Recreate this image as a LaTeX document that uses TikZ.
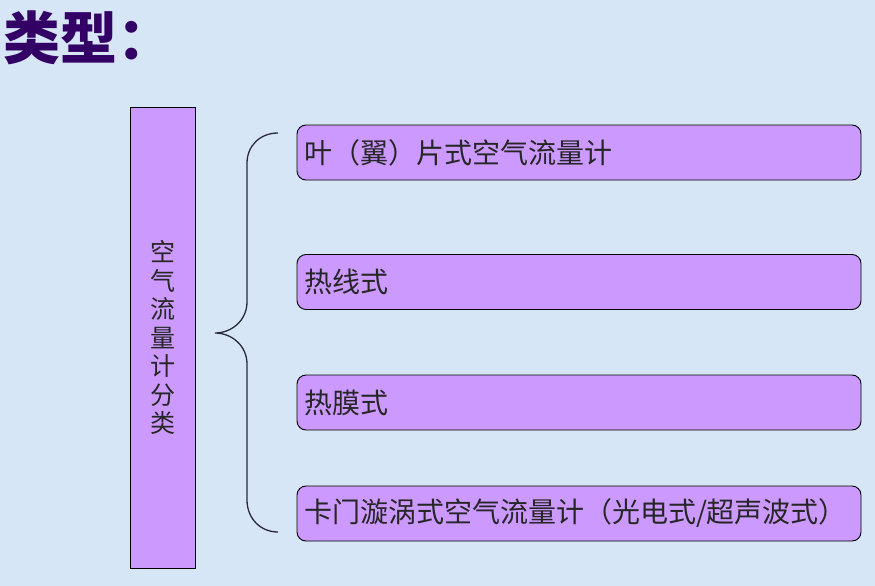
\documentclass[tikz,border=0pt]{standalone}
\usepackage{fontspec}
\setmainfont{Noto Sans CJK SC}
\usepackage{xcolor}
\usetikzlibrary{positioning}

\definecolor{bgblue}{HTML}{D6E6F6}
\definecolor{boxpurple}{HTML}{CC99FF}
\definecolor{titlepurple}{HTML}{330066}
\definecolor{bracegray}{HTML}{2A2A3A}

\tikzset{
    kindbox/.style={draw=black, fill=boxpurple, rounded corners=9pt, line width=0.9pt,
        minimum width=564pt, minimum height=55pt, inner xsep=7pt,
        text width=550pt, align=left, font=\fontsize{28pt}{30pt}\selectfont, text=black!85},
    mainbox/.style={draw=black, fill=boxpurple, line width=0.9pt,
        minimum width=65pt, minimum height=461pt, inner sep=0pt,
        align=center, font=\fontsize{25pt}{28.5pt}\selectfont, text=black!85},
    bracestyle/.style={draw=bracegray, line width=1.3pt}
}

\begin{document}
\begin{tikzpicture}[x=1pt, y=-1pt]
    % background
    \fill[bgblue] (0,0) rectangle (875,586);
    \useasboundingbox (0,0) rectangle (875,586);

    % title
    \node[anchor=west, inner sep=0pt, text=titlepurple,
          font=\fontsize{57pt}{60pt}\selectfont\bfseries] (title) at (3,38) {类型：};

    % left box with vertical text
    \node[mainbox] (sort) at (162.5,337.5) {空\\气\\流\\量\\计\\分\\类};

    % the four kinds
    \node[kindbox] (vane)   at (579,152.5) {叶（翼）片式空气流量计};
    \node[kindbox] (wire)   at (579,282)   {热线式};
    \node[kindbox] (film)   at (579,402.5) {热膜式};
    \node[kindbox] (karman) at (579,513.5) {卡门漩涡式空气流量计（光电式/超声波式）};

    % brace
    \coordinate (btop) at (278,133);
    \coordinate (btip) at (215,333);
    \coordinate (bbot) at (278,532);
    \draw[bracestyle] (btop) .. controls (260,133) and (247,146) .. (247,163)
        -- (247,302) .. controls (247,320) and (232,333) .. (btip)
        .. controls (232,333) and (247,346) .. (247,364)
        -- (247,500) .. controls (247,518) and (260,532) .. (bbot);
\end{tikzpicture}
\end{document}
